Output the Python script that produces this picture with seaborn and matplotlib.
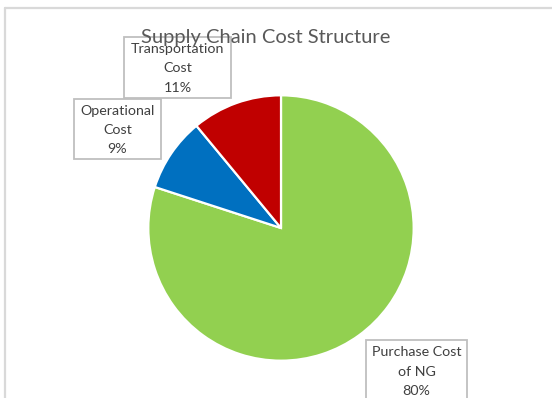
import matplotlib
matplotlib.use("Agg")
import matplotlib.pyplot as plt
from matplotlib.lines import Line2D
from matplotlib.patches import Rectangle
import seaborn as sns

# Cost shares (percent), drawn clockwise from 12 o'clock
categories = ["Purchase Cost\nof NG", "Operational\nCost", "Transportation\nCost"]
shares = [80, 9, 11]
colors = ["#92D050", "#0070C0", "#C00000"]
title = "Supply Chain Cost Structure"

sns.set_theme(style="white")
plt.rcParams["font.family"] = ["Lato", "DejaVu Sans"]

W, H = 552, 398
fig = plt.figure(figsize=(W / 100, H / 100), dpi=100)
fig.patch.set_facecolor("white")


def fx(px):
    return px / W


def fy(py):
    return 1 - py / H


# chart frame (top and left edges visible)
frame_kw = dict(color="#D9D9D9", lw=1.6, transform=fig.transFigure)
fig.add_artist(Line2D([fx(4.5), 1.0], [fy(7.5), fy(7.5)], **frame_kw))
fig.add_artist(Line2D([fx(4.5), fx(4.5)], [0.0, fy(7.5)], **frame_kw))

# pie area
cx, cy, r = 281, 228, 134
ax = fig.add_axes([fx(cx - r), fy(cy + r), 2 * r / W, 2 * r / H])
ax.pie(shares, colors=colors, startangle=90, counterclock=False, radius=1,
       wedgeprops=dict(edgecolor="white", linewidth=1.6))
ax.set_xlim(-1.01, 1.01)
ax.set_ylim(-1.01, 1.01)
ax.set_aspect("equal")
ax.axis("off")

fig.text(fx(266), fy(38), title, ha="center", va="center",
         fontsize=14.5, color="#595959")

# data labels in boxes: (centre x, centre y, width, height) in pixels
label_boxes = [(416.5, 370.5, 101, 61), (117.5, 129, 87, 60), (177.5, 67.5, 107, 61)]
for name, val, (bx, by, bw, bh) in zip(categories, shares, label_boxes):
    fig.add_artist(Rectangle((fx(bx - bw / 2), fy(by + bh / 2)), bw / W, bh / H,
                             transform=fig.transFigure, facecolor="none",
                             edgecolor="#BFBFBF", linewidth=1.3))
    fig.text(fx(bx), fy(by + 1), f"{name}\n{val}%", ha="center", va="center",
             fontsize=10.3, color="#404040", linespacing=1.72)

fig.savefig("out.png", dpi=100, facecolor="white")
